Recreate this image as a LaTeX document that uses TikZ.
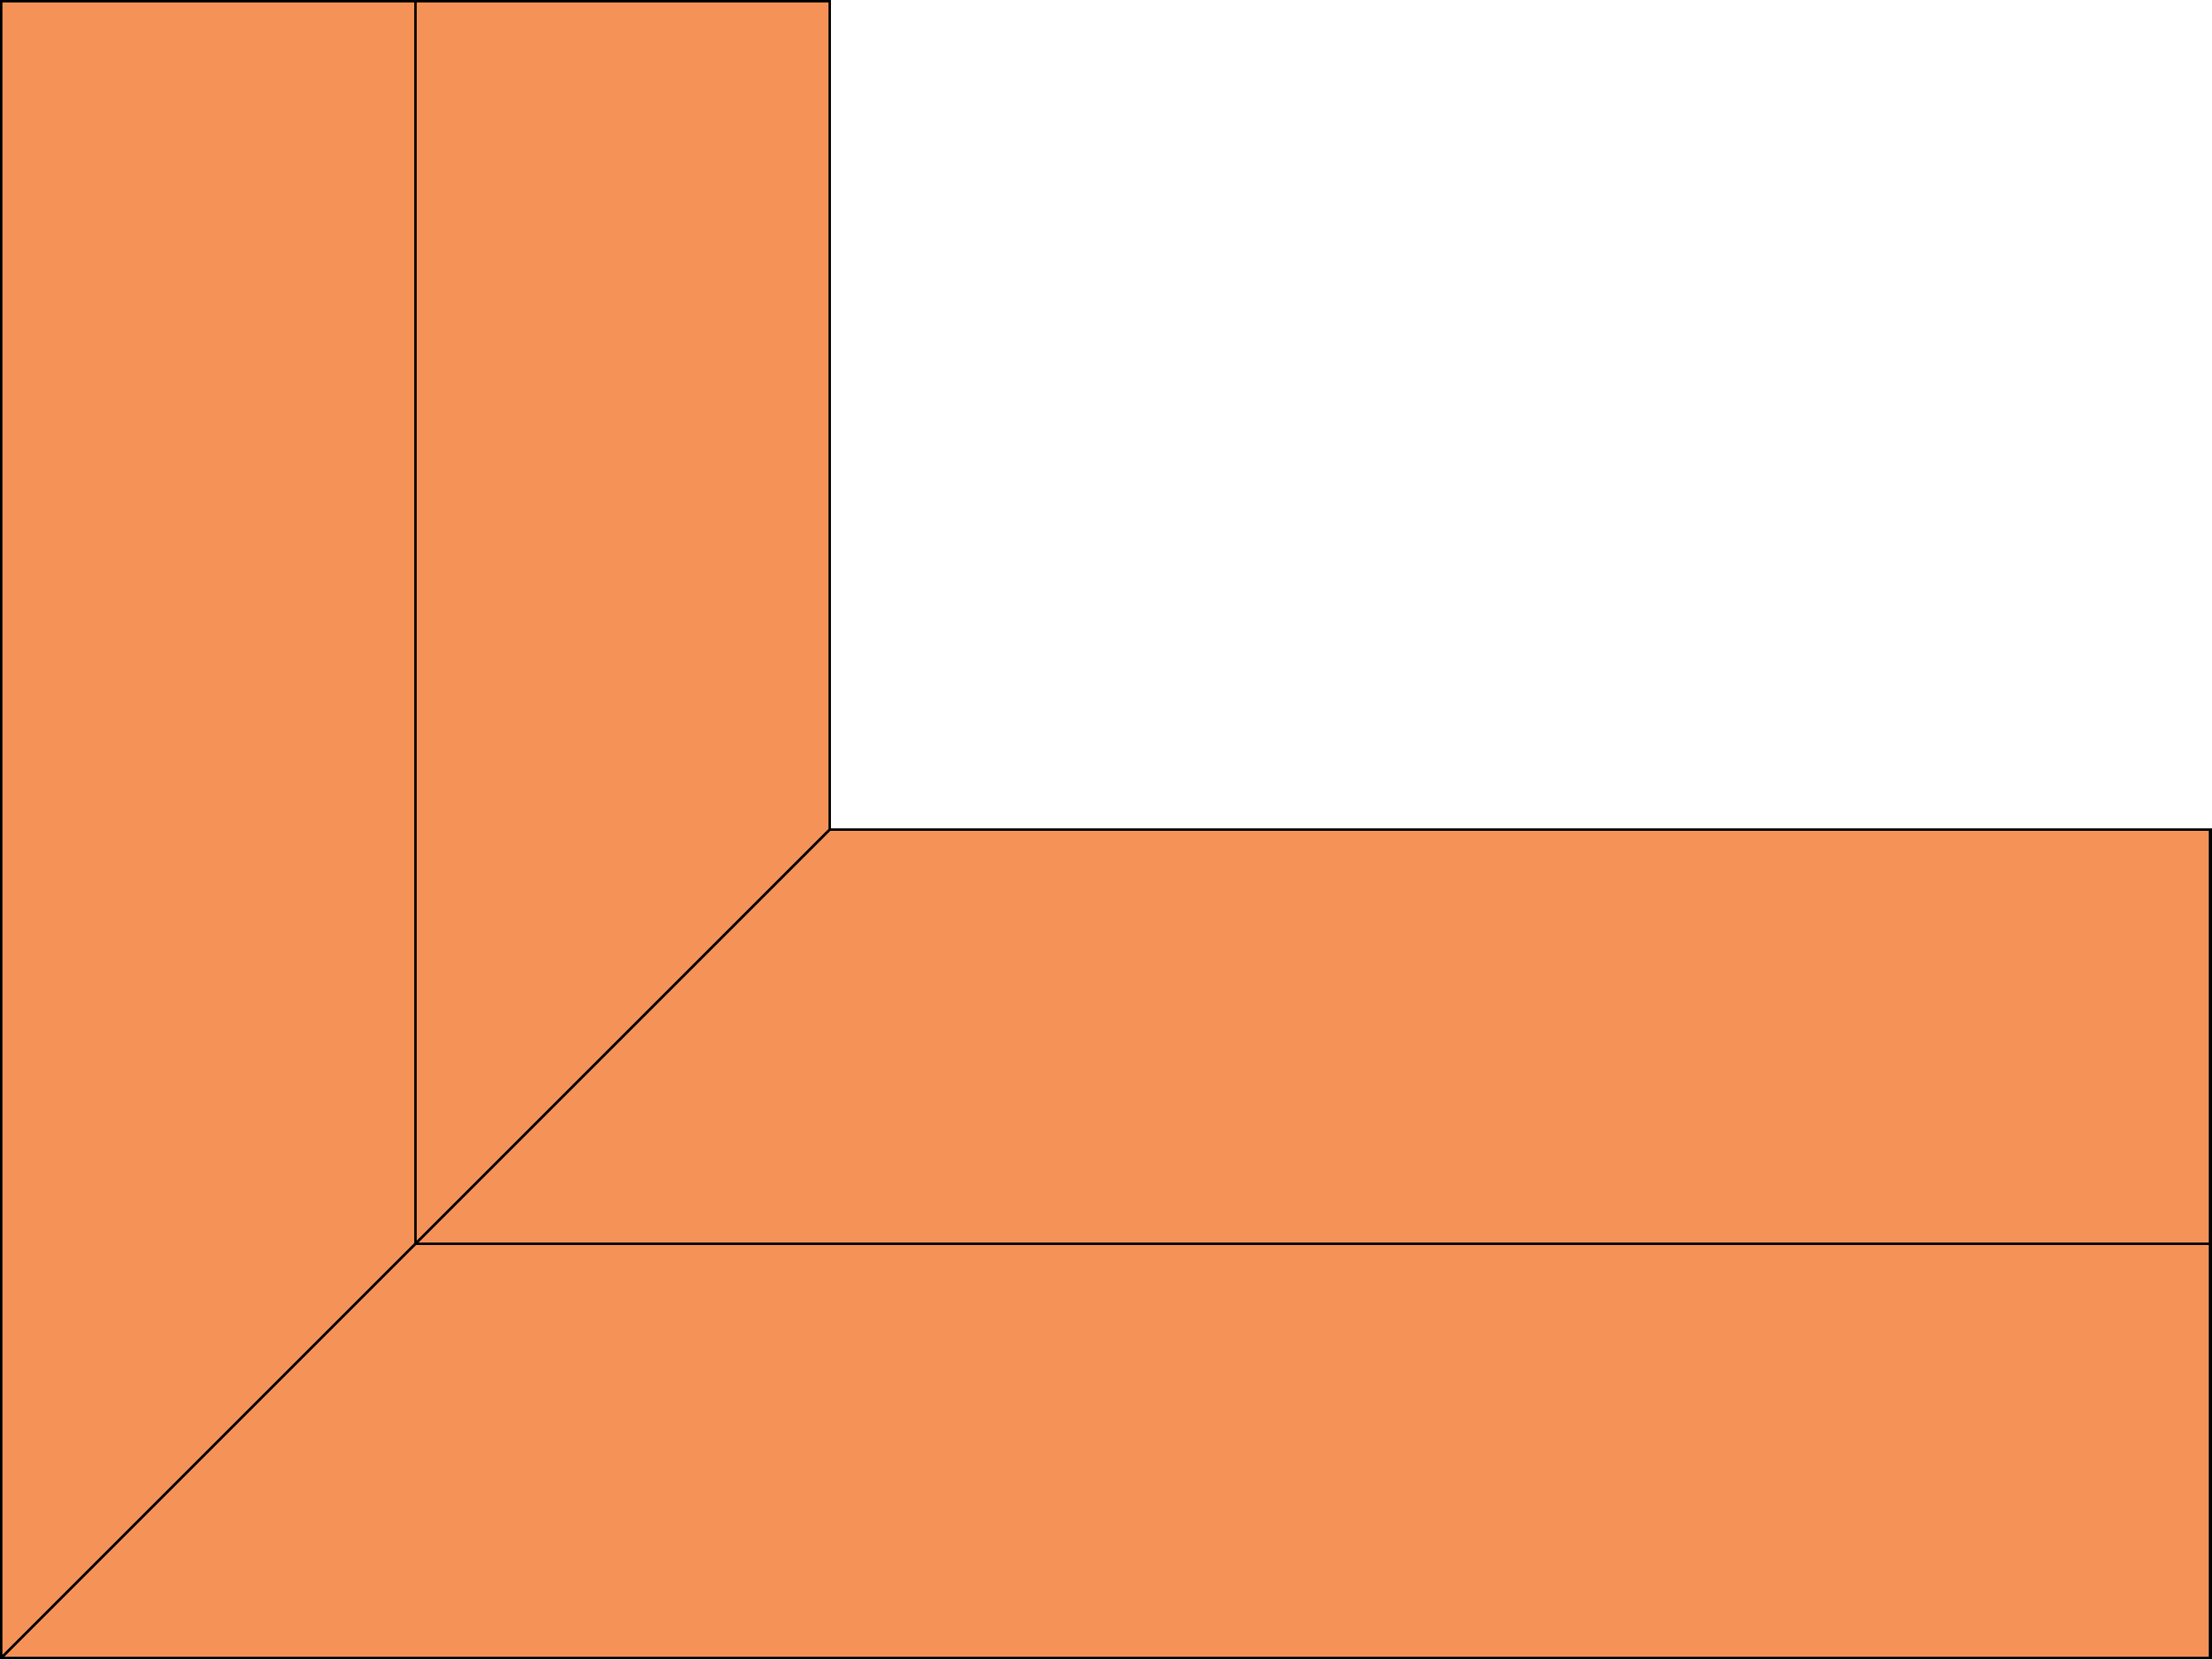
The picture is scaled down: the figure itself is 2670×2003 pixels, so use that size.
\documentclass[tikz,border=0pt]{standalone}
\definecolor{piece}{RGB}{245,146,87}
\begin{document}
\begin{tikzpicture}[x=0.01cm,y=-0.01cm,
  outer/.style={draw=black,line width=1.1pt,fill=piece,line join=miter},
  inner/.style={draw=black,line width=0.85pt}]
\useasboundingbox (0,0) rectangle (2670,2003);
\coordinate (tl) at (1.5,1.5);
\coordinate (tm) at (501.5,1.5);
\coordinate (tr) at (1001.5,1.5);
\coordinate (c) at (1001.5,1001.5);
\coordinate (rt) at (2668,1001.5);
\coordinate (rm) at (2668,1501.5);
\coordinate (br) at (2668,2001.5);
\coordinate (bl) at (1.5,2001.5);
\coordinate (m) at (501.5,1501.5);
\path[outer] (tl) -- (tr) -- (c) -- (rt) -- (br) -- (bl) -- cycle;
\draw[inner] (tm) -- (m) -- (rm);
\draw[inner] (bl) -- (c);
\end{tikzpicture}
\end{document}
